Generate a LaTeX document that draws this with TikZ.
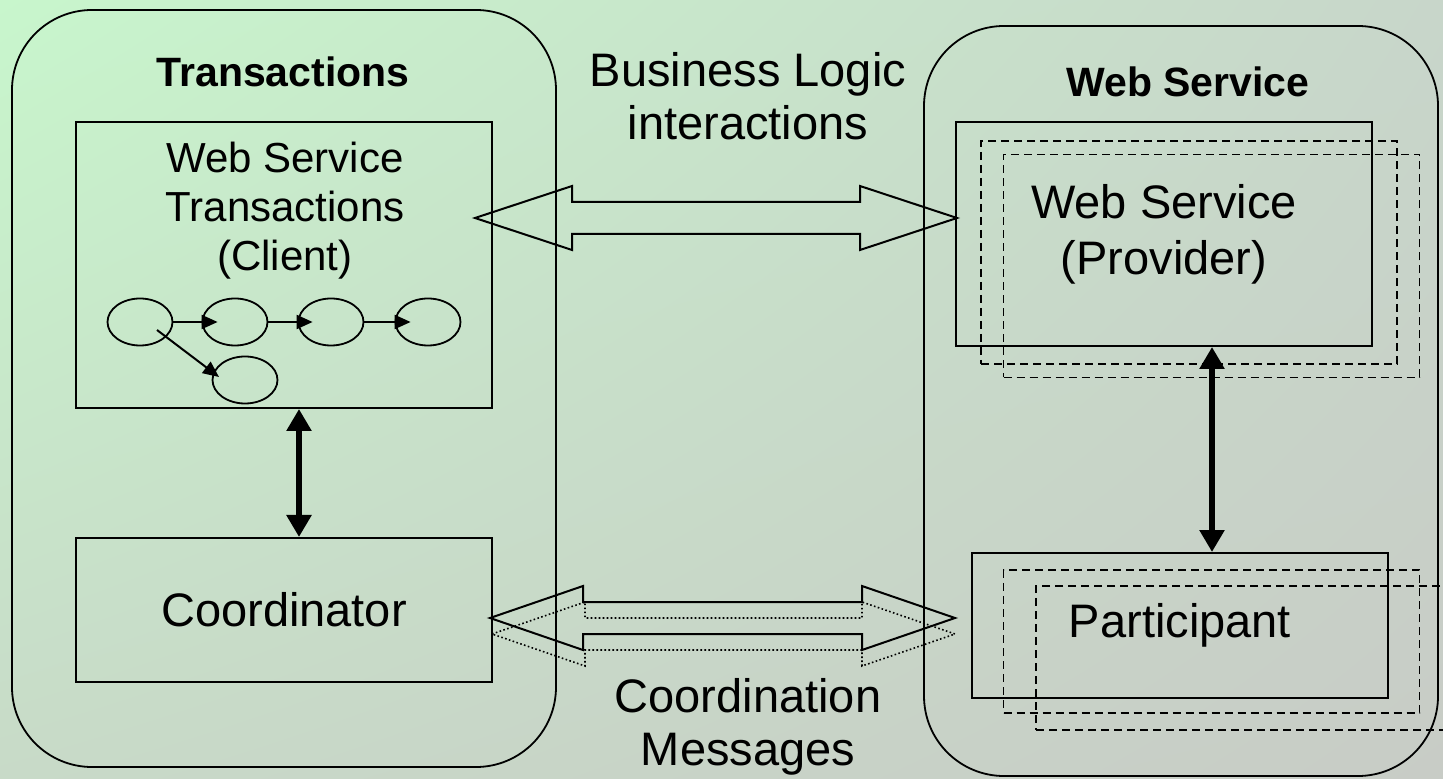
\documentclass[tikz,border=0pt]{standalone}
\usepackage{fontspec}
\setmainfont{Liberation Sans}
\usetikzlibrary{arrows.meta,positioning,shapes.geometric,calc,shadings}
\definecolor{bgtl}{RGB}{200,246,204}
\definecolor{bgtr}{RGB}{200,214,202}
\definecolor{bgbl}{RGB}{200,218,200}
\definecolor{bgbr}{RGB}{200,204,198}

\begin{document}
\begin{tikzpicture}[x=0.5pt, y=-0.5pt,
    group/.style={draw, line width=0.9pt, rounded corners=40pt, inner sep=0pt},
    box/.style={draw, line width=1pt, minimum width=208pt, inner sep=0pt, align=center, font=\fontsize{23.5}{28}\selectfont},
    shadowbox/.style={draw, line width=0.9pt, dash pattern=on 4pt off 2.5pt, minimum width=208pt, inner sep=0pt},
    state/.style={draw, ellipse, line width=0.9pt, minimum width=32.5pt, minimum height=23.5pt, inner sep=0pt},
    heading/.style={anchor=base, font=\fontsize{20.5}{24}\selectfont\bfseries},
    msg/.style={align=center, font=\fontsize{23.5}{26.5}\selectfont},
    link/.style={-{Triangle[length=8pt,width=7pt]}, line width=1pt},
    bigarrow/.style={{Triangle[length=11pt,width=12pt]}-{Triangle[length=11pt,width=12pt]}, line width=2.8pt},
    hollow/.style={line width=1pt, line join=miter},
    echo/.style={line width=0.8pt, dash pattern=on 0.8pt off 1.2pt}
]

% Background
\shade[upper left=bgtl, upper right=bgtr, lower left=bgbl, lower right=bgbr] (0,0) rectangle (1443,779);
\clip (0,0) rectangle (1443,779);

% Groups
\node[group, minimum width=272pt, minimum height=378.5pt] (trans) at (284,388.5) {};
\node[group, minimum width=257pt, minimum height=375pt] (ws) at (1181,401) {};
\node[heading] (transtitle) at (283,87) {Transactions};
\node[heading] (wstitle) at (1188,97) {Web Service};

% Client side
\node[box, minimum height=143pt] (client) at (284,265) {};
\node[font=\fontsize{21}{24.5}\selectfont, align=center] (clienttext) at (285,211) {Web Service\\Transactions\\(Client)};
\node[box, minimum height=72pt] (coord) at (284,610) {Coordinator};

% Activities
\node[state] (t1) at (140,322) {};
\node[state] (t2) at (235,322) {};
\node[state] (t3) at (331,322) {};
\node[state] (t4) at (428,322) {};
\node[state] (t5) at (245,380) {};
\draw[link] (t1) -- ([xshift=8pt]t2.west);
\draw[link] (t2) -- ([xshift=7.5pt]t3.west);
\draw[link] (t3) -- ([xshift=8pt]t4.west);
\draw[link] ([shift={(8.5pt,-4pt)}]t1.center) -- ([shift={(-13pt,1.5pt)}]t5.center);

% Provider side
\node[shadowbox, minimum height=111.5pt] (prov2) at (1211.5,266) {};
\node[shadowbox, minimum height=111.5pt] (prov1) at (1189,252.5) {};
\node[box, minimum height=112pt] (provider) at (1164,234) {Web Service\\(Provider)};
\node[shadowbox, minimum height=72pt] (part2) at (1244,658) {};
\node[shadowbox, minimum height=71.5pt] (part1) at (1211.5,641.5) {};
\node[box, minimum height=72.5pt] (part) at (1180,625.5) {Participant};

% Labels
\node[msg] (bizlabel) at (748,96.5) {Business Logic\\interactions};
\node[msg] (coordlabel) at (748,726.5) {Coordination\\Messages};

% Vertical links
\draw[bigarrow] ([xshift=7.5pt]client.south) -- ([xshift=7.5pt]coord.north);
\draw[bigarrow] ([xshift=24pt]provider.south) -- ([xshift=16pt]part.north);

% Business logic interactions
\coordinate (bizL) at (475,218);
\coordinate (bizR) at (957,218);
\draw[hollow] (bizL) -- ($(bizL)+(97,-32)$) -- ($(bizL)+(97,-16)$) -- ($(bizR)+(-97,-16)$) -- ($(bizR)+(-97,-32)$) -- (bizR)
    -- ($(bizR)+(-97,32)$) -- ($(bizR)+(-97,16)$) -- ($(bizL)+(97,16)$) -- ($(bizL)+(97,32)$) -- cycle;

% Coordination messages
\coordinate (msgL) at (490,618);
\coordinate (msgR) at (955,618);
\coordinate (echoL) at (492,634);
\coordinate (echoR) at (955,634);
\draw[echo] (echoL) -- ($(echoL)+(93,-32)$) -- ($(echoL)+(93,-16)$) -- ($(echoR)+(-93,-16)$) -- ($(echoR)+(-93,-32)$) -- (echoR)
    -- ($(echoR)+(-93,32)$) -- ($(echoR)+(-93,16)$) -- ($(echoL)+(93,16)$) -- ($(echoL)+(93,32)$) -- cycle;
\draw[hollow] (msgL) -- ($(msgL)+(93,-32)$) -- ($(msgL)+(93,-16)$) -- ($(msgR)+(-93,-16)$) -- ($(msgR)+(-93,-32)$) -- (msgR)
    -- ($(msgR)+(-93,32)$) -- ($(msgR)+(-93,16)$) -- ($(msgL)+(93,16)$) -- ($(msgL)+(93,32)$) -- cycle;

\end{tikzpicture}
\end{document}
